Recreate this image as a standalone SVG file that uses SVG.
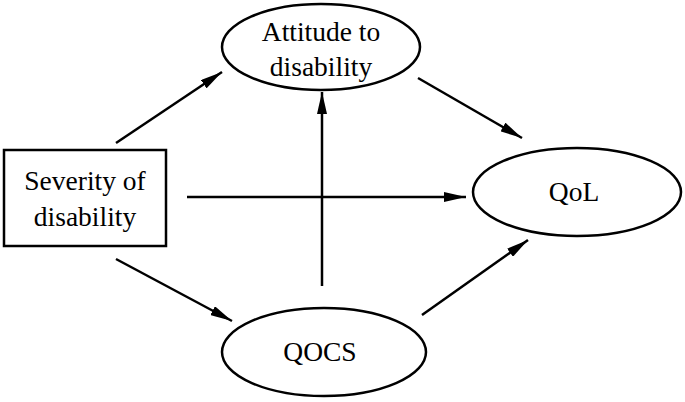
<svg xmlns="http://www.w3.org/2000/svg" width="685" height="402" viewBox="0 0 685 402">
<style>
.n{fill:#fff;stroke:#000;stroke-width:2.5}
.t{font-family:"Liberation Serif","Times New Roman",serif;font-size:27.5px;fill:#000;text-anchor:middle}
.c{stroke:#000;stroke-width:2.5;fill:none;marker-end:url(#ah)}
</style>
<defs>
<marker id="ah" viewBox="0 0 22 10" refX="22" refY="5" markerWidth="22" markerHeight="10" markerUnits="userSpaceOnUse" orient="auto">
<path d="M0,0 L22,5 L0,10 Z" fill="#000"/>
</marker>
</defs>
<rect width="685" height="402" fill="#fff"/>
<g id="connectors">
<line class="c" x1="116" y1="143" x2="222" y2="72"/>
<line class="c" x1="418" y1="78" x2="522" y2="138"/>
<line class="c" x1="187" y1="197" x2="466" y2="197"/>
<line class="c" x1="322" y1="286" x2="322" y2="92"/>
<line class="c" x1="116" y1="259" x2="232" y2="321"/>
<line class="c" x1="422" y1="315" x2="528" y2="240"/>
</g>
<g id="severity">
<rect class="n" x="4" y="150" width="162" height="96"/>
<text class="t" x="85" y="190">Severity of</text>
<text class="t" x="85" y="226">disability</text>
</g>
<g id="attitude">
<ellipse class="n" cx="321" cy="47" rx="99" ry="43"/>
<text class="t" x="321" y="41">Attitude to</text>
<text class="t" x="321" y="76">disability</text>
</g>
<g id="qol">
<ellipse class="n" cx="577" cy="192" rx="104" ry="44"/>
<text class="t" x="574" y="201">QoL</text>
</g>
<g id="qocs">
<ellipse class="n" cx="324" cy="352" rx="102" ry="44"/>
<text class="t" x="320" y="361">QOCS</text>
</g>
</svg>
